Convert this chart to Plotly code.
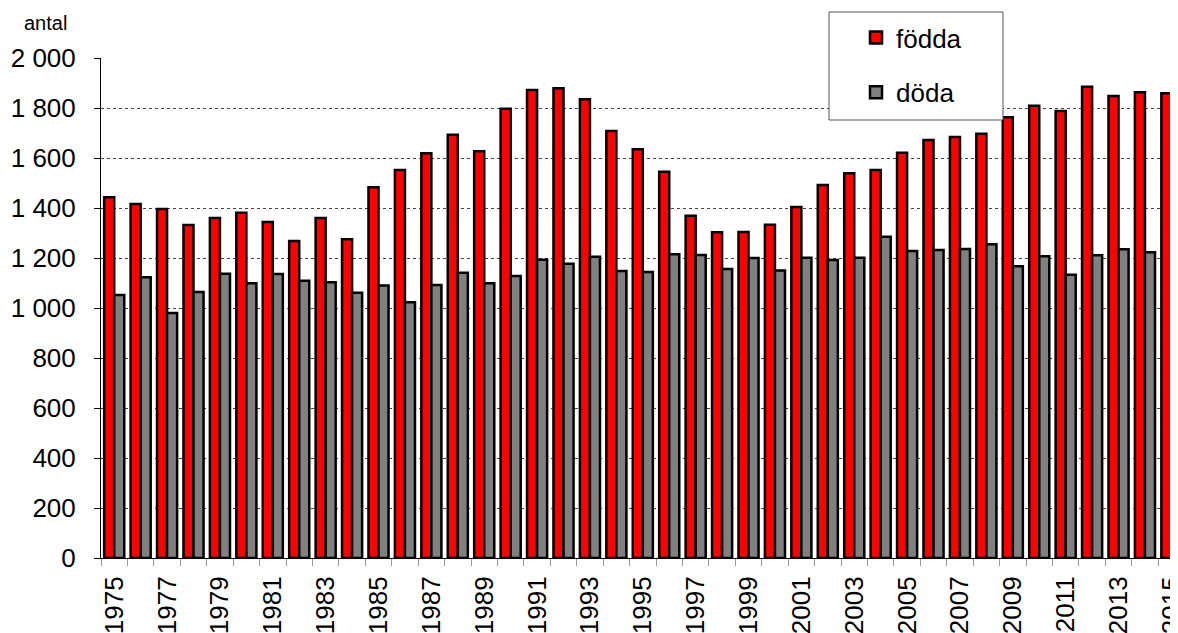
import plotly.graph_objects as go

years = [str(y) for y in range(1975, 2016)]
fodda = [1443, 1416, 1396, 1332, 1360, 1381, 1344, 1268, 1360, 1275,
         1483, 1552, 1619, 1693, 1627, 1797, 1872, 1879, 1835, 1708,
         1635, 1545, 1369, 1303, 1304, 1333, 1404, 1492, 1539, 1552,
         1621, 1672, 1684, 1697, 1763, 1809, 1788, 1885, 1848, 1863, 1859]
doda = [1052, 1123, 980, 1064, 1137, 1099, 1136, 1109, 1103, 1061,
        1090, 1023, 1092, 1141, 1099, 1128, 1193, 1177, 1205, 1148,
        1144, 1215, 1212, 1156, 1200, 1150, 1201, 1192, 1201, 1285,
        1228, 1232, 1236, 1255, 1167, 1207, 1133, 1211, 1235, 1223, 1228]
tick_text = [y if i % 2 == 0 else "" for i, y in enumerate(years)]

FONT = "Liberation Sans, Arial, sans-serif"

fig = go.Figure()
fig.add_trace(go.Bar(x=years, y=fodda, name="födda", legendgroup="a",
                     marker=dict(color="#ff0000", line=dict(color="black", width=2.5))))
fig.add_trace(go.Bar(x=years, y=doda, name="döda", legendgroup="b",
                     marker=dict(color="#808080", line=dict(color="black", width=2.5))))

# page body has an 8px offset
OFF = 8
W, H = 1178 - OFF, 633 - OFF
L, T = 101 - OFF, 58 - OFF
PH = 500
B = H - T - PH
plot_w = W - L
bottom = T + PH


def px(x_abs):
    return (x_abs - OFF - L) / plot_w


def py(y_abs):
    return (bottom - (y_abs - OFF)) / PH


fig.update_layout(
    width=W, height=H,
    margin=dict(l=L, r=0, t=T, b=B, pad=0, autoexpand=False),
    paper_bgcolor="white", plot_bgcolor="white",
    barmode="group", bargap=0.24, bargroupgap=0,
    separators=", ",
    font=dict(family=FONT, color="black", size=26),
    xaxis=dict(
        type="category", range=[-0.5, 40.25], automargin=False,
        tickmode="array", tickvals=years, ticktext=tick_text,
        tickangle=-90, tickson="boundaries",
        ticks="outside", ticklen=7, tickcolor="#999999", tickwidth=1,
        ticklabelstandoff=7,
        showline=True, linecolor="black", linewidth=1,
        showgrid=False, tickfont=dict(size=26),
    ),
    yaxis=dict(
        range=[0, 2000], dtick=200, tickformat=",d", automargin=False,
        ticks="outside", ticklen=6, tickcolor="black",
        ticklabelstandoff=13,
        showline=True, linecolor="black", linewidth=1,
        showgrid=True, gridcolor="#444444", gridwidth=1, griddash="dot",
        zeroline=False, tickfont=dict(size=26),
    ),
    showlegend=True,
    legend=dict(
        x=px(856), y=py(14), xanchor="left", yanchor="top",
        bgcolor="rgba(0,0,0,0)", borderwidth=0, itemwidth=30,
        font=dict(size=26), tracegroupgap=18, traceorder="grouped",
    ),
    shapes=[dict(
        type="rect", xref="paper", yref="paper", layer="above",
        x0=px(829), x1=px(1003),
        y0=py(120), y1=py(12),
        fillcolor="white", line=dict(color="#555555", width=1),
    )],
    annotations=[dict(
        text="antal", xref="paper", yref="paper",
        x=px(22), y=py(23),
        xanchor="left", yanchor="middle", showarrow=False,
        font=dict(size=20, family=FONT),
    )],
)

fig.write_html("out.html")
